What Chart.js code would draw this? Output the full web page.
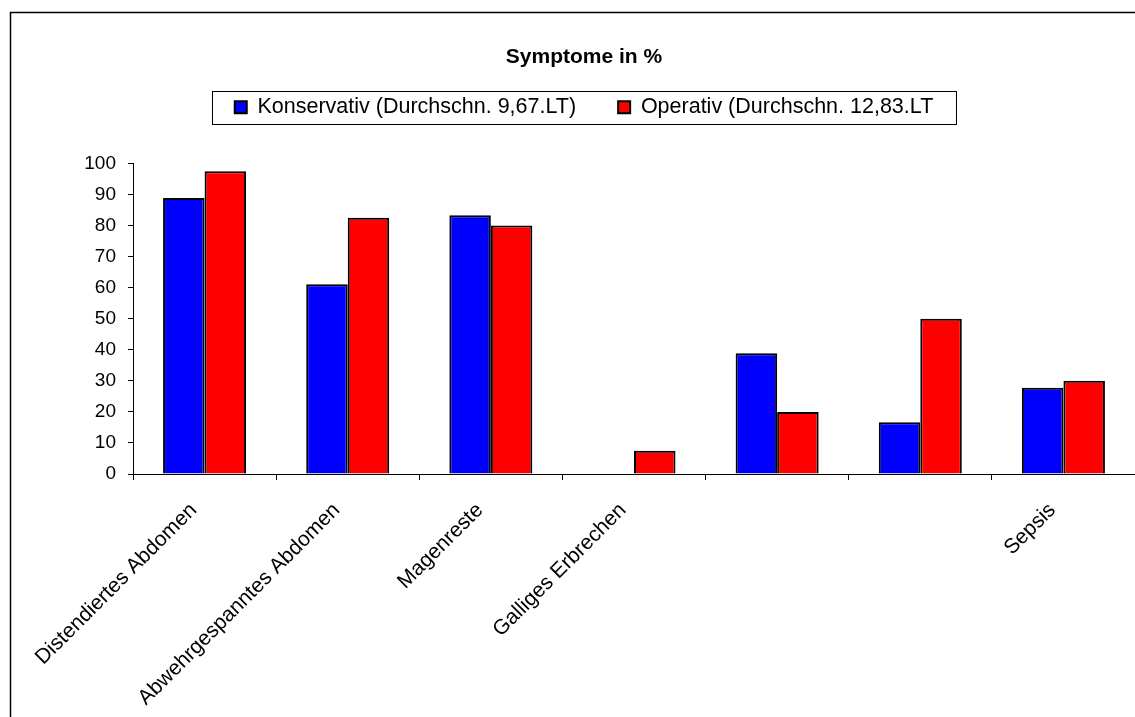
<!DOCTYPE html>
<html>
<head>
<meta charset="utf-8">
<title>Symptome in %</title>
<script src="https://cdn.jsdelivr.net/npm/chart.js@4.4.1/dist/chart.umd.min.js"></script>
<style>
    html, body { margin: 0; padding: 0; background: #fff; }
    #wrap { width: 1135px; height: 717px; position: relative; }
</style>
</head>
<body>
<div id="wrap"><canvas id="chart"></canvas></div>
<script>
// Werte (Prozent)
const categories = [
    'Distendiertes Abdomen',
    'Abwehrgespanntes Abdomen',
    'Magenreste',
    'Galliges Erbrechen',
    '',
    '',
    'Sepsis',
];
const konservativ = [88.9, 61.1, 83.3, 0, 38.9, 16.7, 27.8];
const operativ = [97.5, 82.5, 80, 7.5, 20, 50, 30];
const seriesNames = ['Konservativ (Durchschn. 9,67.LT)', 'Operativ (Durchschn. 12,83.LT'];
const yMin = 0;
const yMax = 100;
const yStep = 10;

const FONT = '"Liberation Sans", Arial, sans-serif';
Chart.defaults.font.family = FONT;
Chart.defaults.color = '#000';

// Rahmen links/oben und Kasten um die Legende
const framePlugin = {
    id: 'frame',
    beforeDraw(chart) {
        const { ctx, width, height } = chart;
        ctx.save();
        ctx.fillStyle = '#fff';
        ctx.fillRect(0, 0, width, height);
        ctx.restore();
    },
    afterDraw(chart) {
        const { ctx, width, height } = chart;
        ctx.save();
        ctx.strokeStyle = '#000';
        ctx.lineWidth = 1.5;
        ctx.beginPath();
        ctx.moveTo(10.5, height);
        ctx.lineTo(10.5, 12.5);
        ctx.lineTo(width, 12.5);
        ctx.stroke();

        const boxes = chart.legend.legendHitBoxes;
        if (boxes && boxes.length) {
            const left = Math.min(...boxes.map((b) => b.left)) - 23;
            const right = Math.max(...boxes.map((b) => b.left + b.width)) + 22;
            const mid = boxes[0].top + boxes[0].height / 2;
            ctx.lineWidth = 1;
            ctx.strokeRect(Math.round(left) + 0.5, Math.round(mid - 16.5) + 0.5, Math.round(right - left), 33);
        }
        ctx.restore();
    },
};

new Chart(document.getElementById('chart'), {
    type: 'bar',
    data: {
        labels: categories,
        datasets: [
            {
                label: seriesNames[0],
                data: konservativ,
                backgroundColor: '#0000FF',
                borderColor: '#000',
                borderWidth: 2,
            },
            {
                label: seriesNames[1],
                data: operativ,
                backgroundColor: '#FF0000',
                borderColor: '#000',
                borderWidth: 2,
            },
        ],
    },
    options: {
        responsive: true,
        maintainAspectRatio: false,
        animation: false,
        layout: { padding: { left: 33, right: 0, top: 0, bottom: 0 } },
        datasets: {
            bar: { categoryPercentage: 0.58, barPercentage: 1 },
        },
        plugins: {
            title: {
                display: true,
                text: 'Symptome in %',
                font: { size: 21, weight: 'bold' },
                padding: { top: 44.4, bottom: -15.1 },
            },
            // leerer Abstandshalter zwischen Legende und Diagramm
            subtitle: {
                display: true,
                text: '',
                weight: 500,
                font: { size: 10 },
                padding: { top: 23.5, bottom: 0 },
            },
            legend: {
                labels: {
                    font: { size: 21.5 },
                    boxWidth: 12,
                    boxHeight: 12,
                    padding: 42,
                    color: '#000',
                },
            },
            tooltip: { enabled: false },
        },
        scales: {
            x: {
                grid: {
                    offset: true,
                    drawOnChartArea: false,
                    drawTicks: true,
                    tickLength: 6,
                    color: '#000',
                },
                border: { display: true, color: '#000', width: 1 },
                ticks: {
                    autoSkip: false,
                    minRotation: 45,
                    maxRotation: 45,
                    font: { size: 21 },
                    color: '#000',
                    padding: 18,
                    labelOffset: -11,
                },
                afterFit(scale) {
                    scale.height = 243;
                },
            },
            y: {
                min: yMin,
                max: yMax,
                grid: {
                    drawOnChartArea: false,
                    drawTicks: true,
                    tickLength: 5,
                    color: '#000',
                },
                border: { display: true, color: '#000', width: 1 },
                ticks: {
                    stepSize: yStep,
                    font: { size: 19 },
                    color: '#000',
                    padding: 12,
                },
                afterFit(scale) {
                    scale.width = 100;
                },
            },
        },
    },
    plugins: [framePlugin],
});
</script>
</body>
</html>
